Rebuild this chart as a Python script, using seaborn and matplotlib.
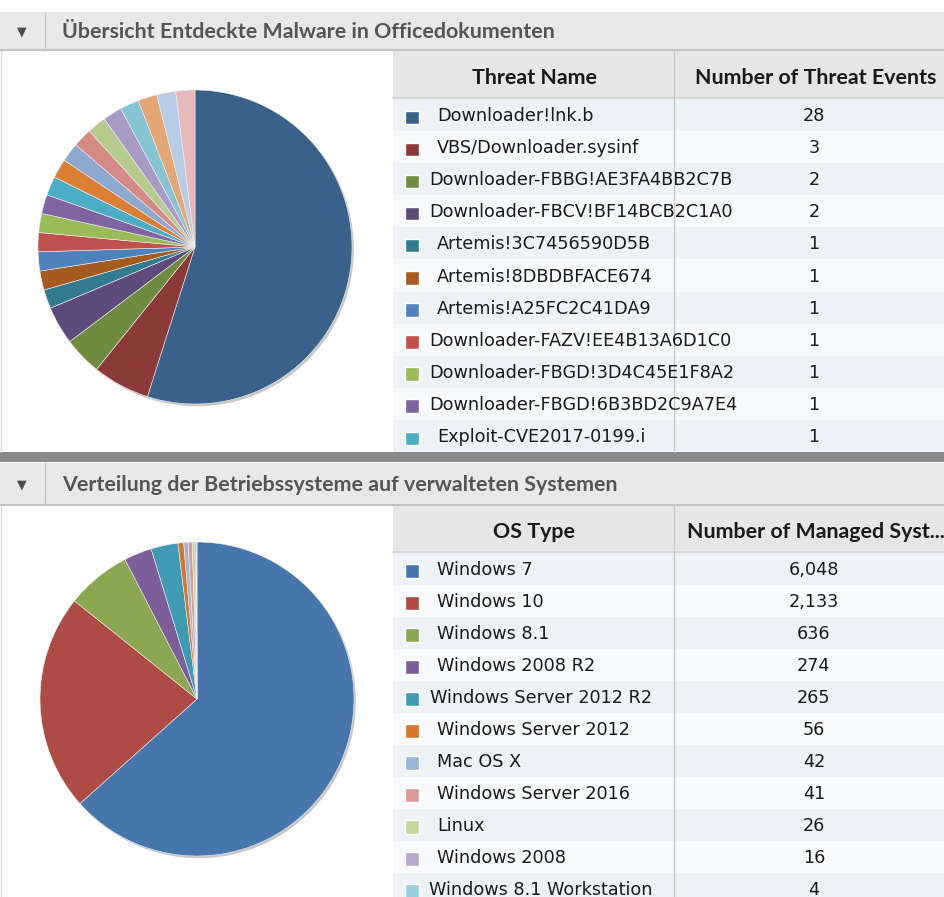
import matplotlib
matplotlib.use('Agg')
import matplotlib.pyplot as plt
from matplotlib.patches import Rectangle, Circle
import seaborn as sns

threat_names = ['Downloader!lnk.b', 'VBS/Downloader.sysinf', 'Downloader-FBBG!AE3FA4BB2C7B',
                'Downloader-FBCV!BF14BCB2C1A0', 'Artemis!3C7456590D5B', 'Artemis!8DBDBFACE674',
                'Artemis!A25FC2C41DA9', 'Downloader-FAZV!EE4B13A6D1C0', 'Downloader-FBGD!3D4C45E1F8A2',
                'Downloader-FBGD!6B3BD2C9A7E4', 'Exploit-CVE2017-0199.i']
# pie holds 20 slices, only the first 11 rows are visible in the table
threat_counts = [28, 3, 2, 2, 1, 1, 1, 1, 1, 1, 1, 1, 1, 1, 1, 1, 1, 1, 1, 1]

os_names = ['Windows 7', 'Windows 10', 'Windows 8.1', 'Windows 2008 R2', 'Windows Server 2012 R2',
            'Windows Server 2012', 'Mac OS X', 'Windows Server 2016', 'Linux', 'Windows 2008',
            'Windows 8.1 Workstation']
os_counts = [6048, 2133, 636, 274, 265, 56, 42, 41, 26, 16, 4]

threat_colors = sns.color_palette([
    '#3a6189', '#8b3a38', '#6f8b40', '#5e4a7b', '#317d8f', '#a55b1f',
    '#4f81bd', '#c0504d', '#9bbb59', '#8064a2', '#4bacc6', '#db7d32',
    '#8ea9d0', '#d68a86', '#b5cb8e', '#a999c5', '#86c4d3', '#e3a674',
    '#b9cce5', '#e5b9ba'])
os_colors = sns.color_palette([
    '#4776ac', '#ae4b45', '#8aa650', '#7b5e9a', '#3f9ab4', '#d9752a',
    '#99b5d8', '#db9a99', '#c3d69b', '#b8a7cb', '#9acfdc'])

sns.set_theme(style='white')
plt.rcParams['font.family'] = ['DejaVu Sans']

W, H = 944, 897
fig = plt.figure(figsize=(W / 100, H / 100), dpi=100)
bg = fig.add_axes([0, 0, 1, 1])
bg.set_xlim(0, W)
bg.set_ylim(H, 0)
bg.axis('off')
renderer = fig.canvas.get_renderer()

cond = ['Lato', 'DejaVu Sans']


def section_header(y0, y1, title):
    bg.add_patch(Rectangle((0, y0), W, y1 - y0, color='#e8e8e8', lw=0))
    bg.plot([0, W], [y1, y1], color='#c4c4c4', lw=1.5)
    bg.plot([45, 45], [y0, y1], color='#c8c8c8', lw=1)
    bg.text(22, (y0 + y1) / 2 + 1, '\u25bc', ha='center', va='center', fontsize=9, color='#4a4a4a')
    bg.text(62, (y0 + y1) / 2 + 1, title, ha='left', va='center', fontsize=15.4,
            fontweight='bold', color='#555555', family=cond)


def table(y0, header_h, row_h, col1, col2, names, counts, colors, fmt):
    bg.add_patch(Rectangle((393, y0), W - 393, header_h, color='#e6e6e6', lw=0))
    bg.plot([393, W], [y0 + header_h, y0 + header_h], color='#d0d0d0', lw=1.2)
    hy = y0 + header_h / 2 + 3
    bg.text(534, hy, col1, ha='center', va='center', fontsize=15.4,
            fontweight='bold', color='#1a1a1a', family=cond)
    bg.text(816, hy, col2, ha='center', va='center', fontsize=15.4,
            fontweight='bold', color='#1a1a1a', family=cond)
    top = y0 + header_h + 1
    clip = Rectangle((393, top), 674 - 393, H - top, transform=bg.transData, visible=False)
    bg.add_patch(clip)
    for i, (name, cnt) in enumerate(zip(names, counts)):
        ry = top + i * row_h
        bg.add_patch(Rectangle((393, ry), W - 393, row_h,
                               color='#eef2f6' if i % 2 == 0 else '#f8f9fa', lw=0))
        cy = ry + row_h / 2 + 1
        bg.add_patch(Rectangle((405, cy - 5.5), 13.5, 13.5, facecolor=colors[i],
                               edgecolor='white', lw=1))
        t = bg.text(437, cy, name, ha='left', va='center', fontsize=12.7, color='#1a1a1a')
        right = bg.transData.inverted().transform(t.get_window_extent(renderer))[1][0]
        if right > 652:
            t.set_x(437 - min(right - 652, 8))
        t.set_clip_path(clip)
        bg.text(814, cy, fmt(cnt), ha='center', va='center', fontsize=12.7, color='#1a1a1a')
    bg.plot([674, 674], [y0, min(top + len(names) * row_h, H)], color='#c8c8c8', lw=1)


def pie(cx, cy, r, counts, colors):
    pad = 1.06
    size = 2 * r * pad
    ax = fig.add_axes([(cx - size / 2) / W, (H - cy - size / 2) / H, size / W, size / H])
    ax.set_aspect('equal')
    ax.axis('off')
    ax.add_patch(Circle((0.012, -0.014), 1.0, color='#9a9a9a', alpha=0.55, lw=0, zorder=0))
    ax.pie(counts, colors=colors, startangle=90, counterclock=False, radius=1.0,
           wedgeprops=dict(edgecolor='#f2f2f2', linewidth=0.4))
    ax.set_xlim(-pad, pad)
    ax.set_ylim(-pad, pad)


# top section
section_header(12, 50, 'Übersicht Entdeckte Malware in Officedokumenten')
bg.plot([1, 1], [51, 452], color='#d8d8d8', lw=1)
table(51, 47, 32.1, 'Threat Name', 'Number of Threat Events',
      threat_names, threat_counts, threat_colors, lambda v: f'{v}')
pie(195, 247, 157, threat_counts, threat_colors)

# separator
bg.add_patch(Rectangle((0, 452), W, 10.5, color='#8a8a8a', lw=0))

# bottom section
section_header(463, 505, 'Verteilung der Betriebssysteme auf verwalteten Systemen')
bg.plot([1, 1], [506, H], color='#d8d8d8', lw=1)
table(506, 46, 32.0, 'OS Type', 'Number of Managed Syst...',
      os_names, os_counts, os_colors, lambda v: f'{v:,}')
pie(197, 699, 157, os_counts, os_colors)

fig.savefig('out.png', dpi=100, facecolor='white')
